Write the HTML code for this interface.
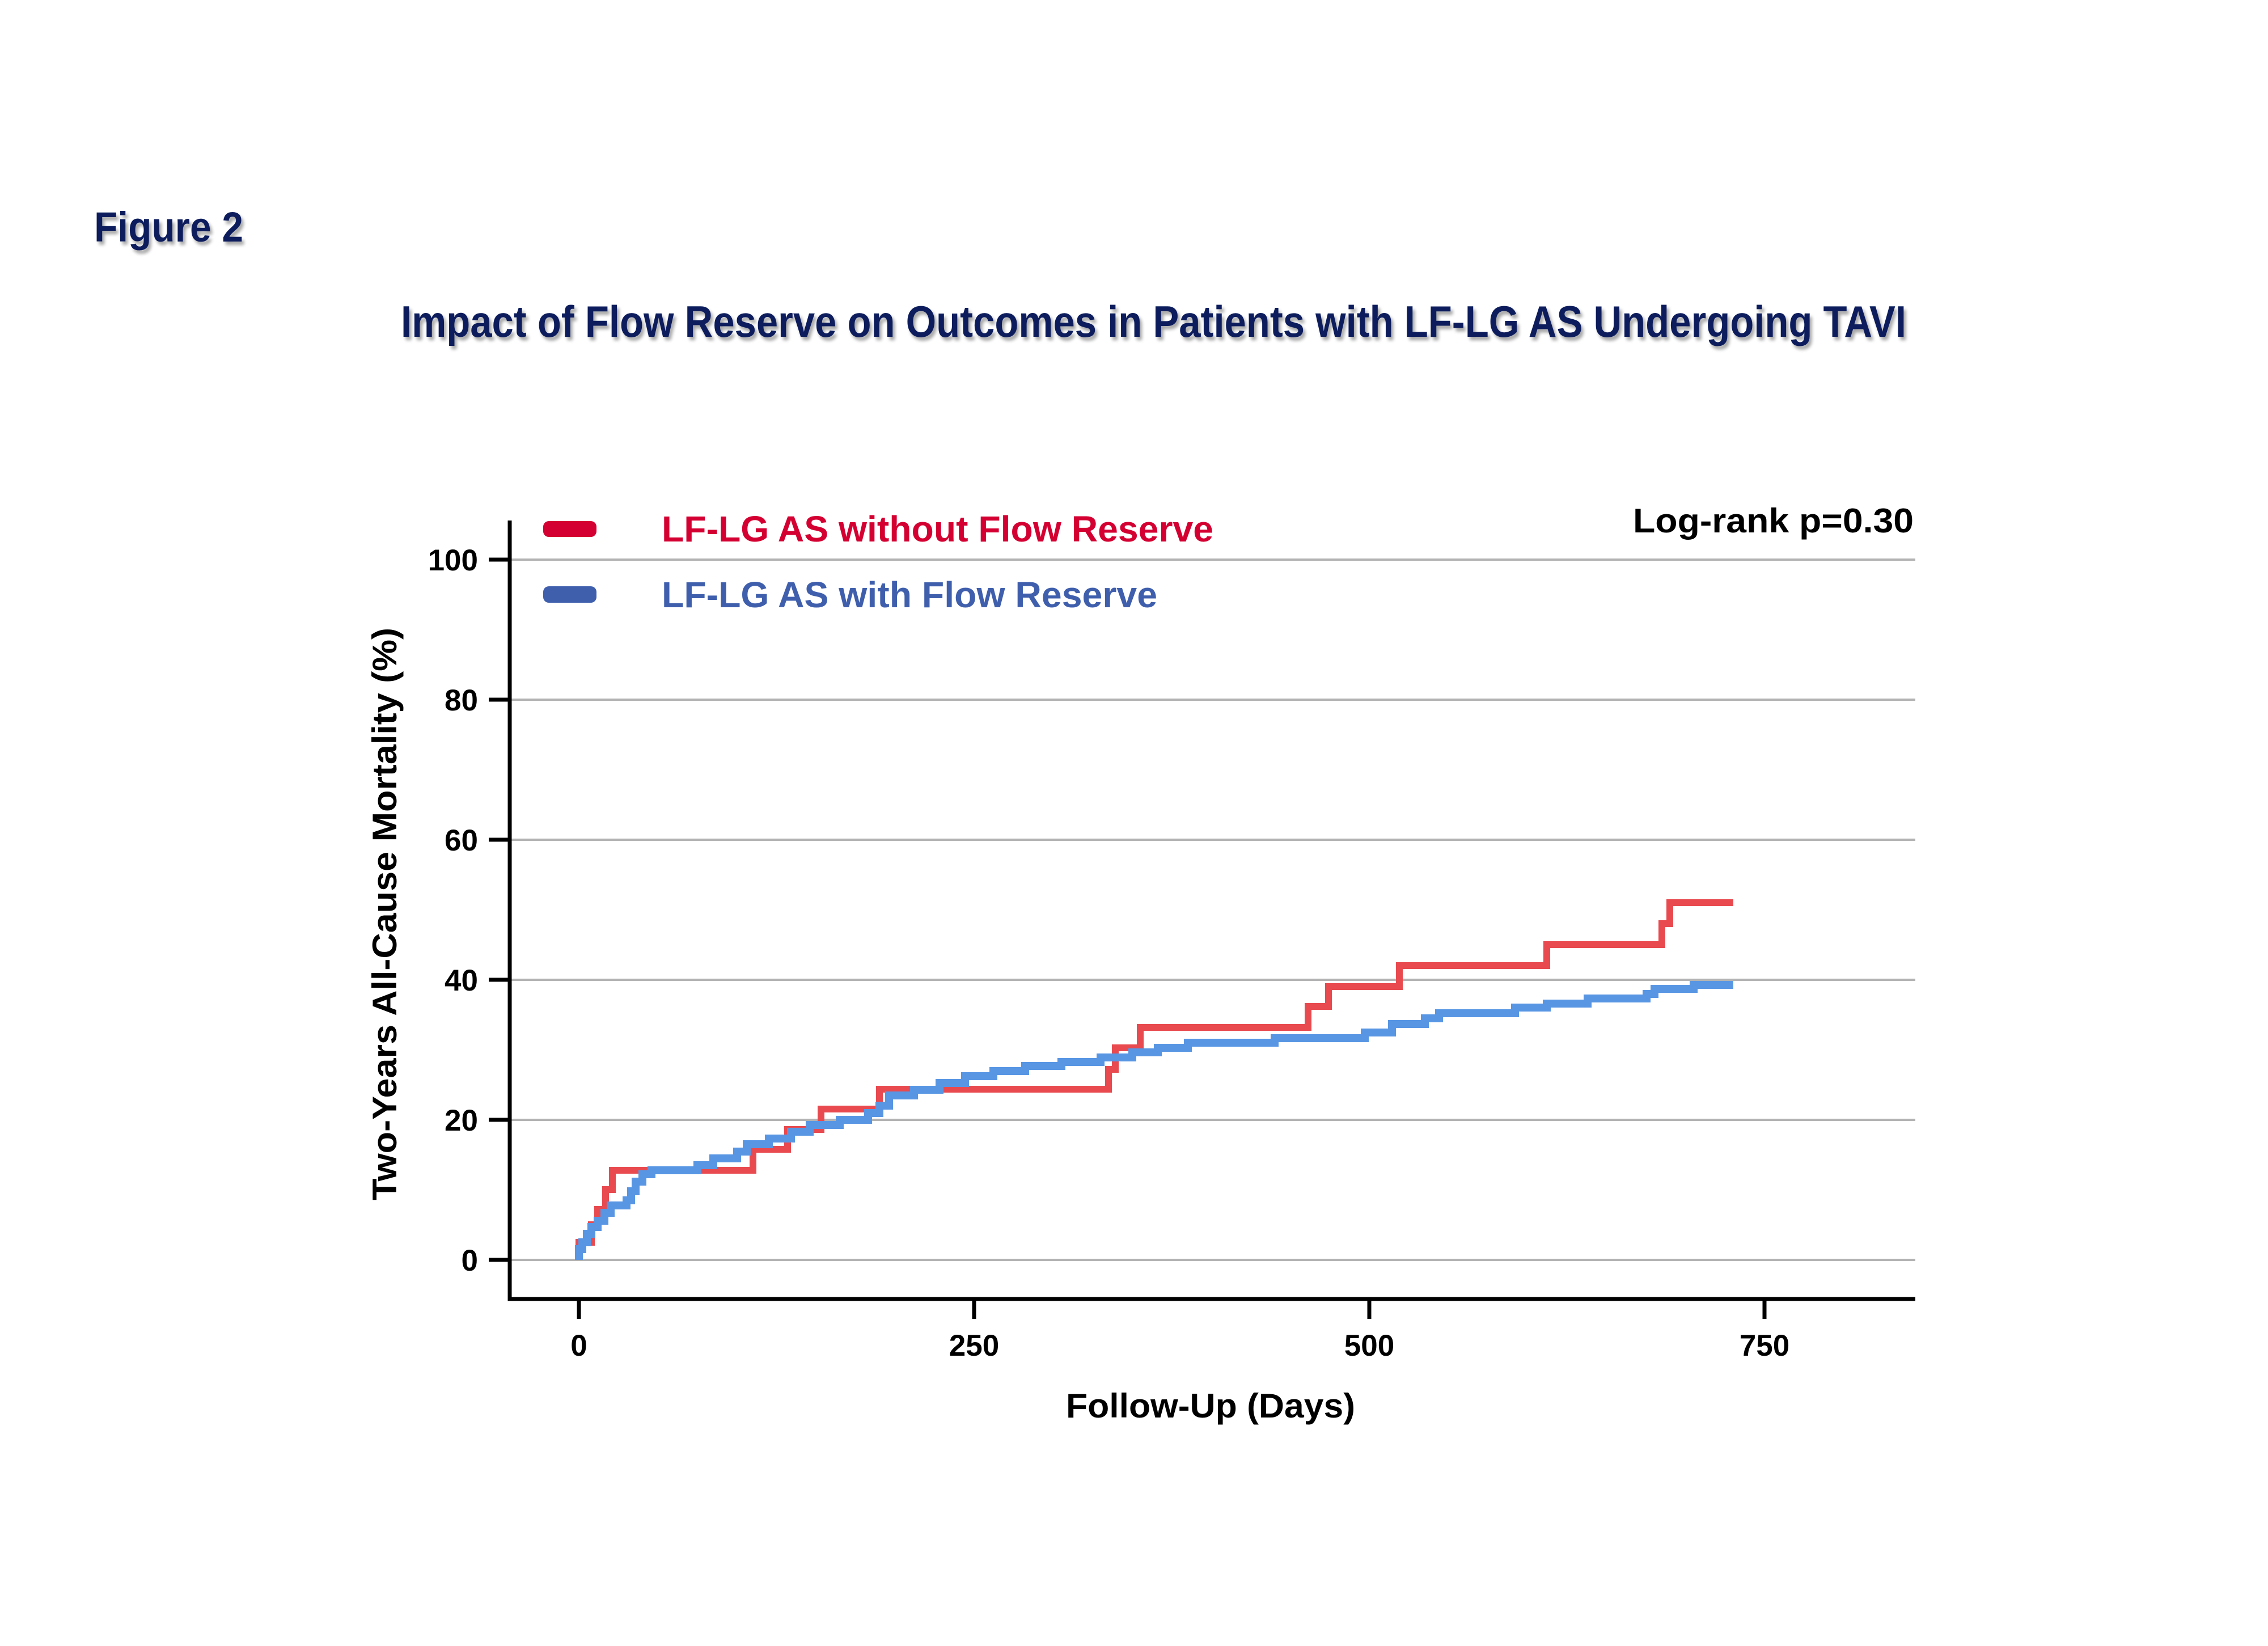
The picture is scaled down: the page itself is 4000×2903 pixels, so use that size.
<!DOCTYPE html>
<html><head><meta charset="utf-8"><style>html,body{margin:0;padding:0;background:#fff}svg{display:block}</style></head>
<body>
<svg xmlns="http://www.w3.org/2000/svg" width="4000" height="2903" viewBox="0 0 4000 2903">
<defs>
<filter id="sh" x="-5%" y="-20%" width="110%" height="150%"><feGaussianBlur in="SourceAlpha" stdDeviation="3"/><feOffset dx="4" dy="6"/><feComponentTransfer><feFuncA type="linear" slope="0.35"/></feComponentTransfer><feMerge><feMergeNode/><feMergeNode in="SourceGraphic"/></feMerge></filter>
</defs>
<rect width="4000" height="2903" fill="#fff"/>
<g font-family="Liberation Sans, Arial, sans-serif" font-weight="bold" fill="#0b1f5c" filter="url(#sh)">
<text x="166" y="426" font-size="74" textLength="263" lengthAdjust="spacingAndGlyphs">Figure 2</text>
<text x="707" y="594" font-size="78" textLength="2655" lengthAdjust="spacingAndGlyphs">Impact of Flow Reserve on Outcomes in Patients with LF-LG AS Undergoing TAVI</text>
</g>
<g stroke="#b3b3b3" stroke-width="4">
<line x1="902" y1="987" x2="3378" y2="987"/>
<line x1="902" y1="1234" x2="3378" y2="1234"/>
<line x1="902" y1="1481" x2="3378" y2="1481"/>
<line x1="902" y1="1728" x2="3378" y2="1728"/>
<line x1="902" y1="1975" x2="3378" y2="1975"/>
<line x1="902" y1="2222" x2="3378" y2="2222"/>
</g>
<g stroke="#000" stroke-width="7" fill="none">
<path d="M899 918 V2291 H3378"/>
<line x1="862" y1="987" x2="899" y2="987"/>
<line x1="862" y1="1234" x2="899" y2="1234"/>
<line x1="862" y1="1481" x2="899" y2="1481"/>
<line x1="862" y1="1728" x2="899" y2="1728"/>
<line x1="862" y1="1975" x2="899" y2="1975"/>
<line x1="862" y1="2222" x2="899" y2="2222"/>
<line x1="1021" y1="2291" x2="1021" y2="2326"/>
<line x1="1718" y1="2291" x2="1718" y2="2326"/>
<line x1="2415" y1="2291" x2="2415" y2="2326"/>
<line x1="3112" y1="2291" x2="3112" y2="2326"/>
</g>
<g font-family="Liberation Sans, Arial, sans-serif" font-weight="bold" font-size="53" fill="#000" text-anchor="end">
<text x="843" y="1006">100</text>
<text x="843" y="1253">80</text>
<text x="843" y="1500">60</text>
<text x="843" y="1747">40</text>
<text x="843" y="1994">20</text>
<text x="843" y="2241">0</text>
</g>
<g font-family="Liberation Sans, Arial, sans-serif" font-weight="bold" font-size="53" fill="#000" text-anchor="middle">
<text x="1021" y="2391">0</text>
<text x="1718" y="2391">250</text>
<text x="2415" y="2391">500</text>
<text x="3112" y="2391">750</text>
</g>
<text x="2135" y="2500" font-family="Liberation Sans, Arial, sans-serif" font-weight="bold" font-size="60" text-anchor="middle" textLength="510" lengthAdjust="spacingAndGlyphs">Follow-Up (Days)</text>
<text transform="translate(699,1612) rotate(-90)" font-family="Liberation Sans, Arial, sans-serif" font-weight="bold" font-size="60" text-anchor="middle" textLength="1010" lengthAdjust="spacingAndGlyphs">Two-Years All-Cause Mortality (%)</text>
<text x="3375" y="939" font-family="Liberation Sans, Arial, sans-serif" font-weight="bold" font-size="60" text-anchor="end" textLength="495" lengthAdjust="spacingAndGlyphs">Log-rank p=0.30</text>
<rect x="958" y="919" width="94" height="28" rx="10" fill="#d40032"/>
<rect x="958" y="1034" width="94" height="29" rx="10" fill="#3f5fad"/>
<text x="1167" y="955" font-family="Liberation Sans, Arial, sans-serif" font-weight="bold" font-size="64" fill="#d40032" textLength="973" lengthAdjust="spacingAndGlyphs">LF-LG AS without Flow Reserve</text>
<text x="1167" y="1071" font-family="Liberation Sans, Arial, sans-serif" font-weight="bold" font-size="64" fill="#3f5fad" textLength="874" lengthAdjust="spacingAndGlyphs">LF-LG AS with Flow Reserve</text>
<path fill="none" stroke="#e84a4f" stroke-width="12" d="M1021 2222 V2191 H1043 V2160 H1054 V2133 H1068 V2098 H1080 V2064 H1328 V2027 H1389 V1992 H1448 V1956 H1551 V1921 H1955 V1886 H1967 V1848 H2011 V1812 H2307 V1775 H2343 V1740 H2468 V1703 H2728 V1666 H2931 V1629 H2945 V1592 H3057"/>
<path fill="none" stroke="#5896e4" stroke-width="14" d="M1021 2222 V2203 H1027 V2191 H1035 V2176 H1043 V2164 H1054 V2153 H1066 V2139 H1077 V2126 H1105 V2117 H1113 V2101 H1121 V2084 H1133 V2071 H1149 V2064 H1230 V2055 H1258 V2043 H1300 V2031 H1317 V2018 H1356 V2008 H1395 V1996 H1428 V1984 H1481 V1975 H1531 V1963 H1551 V1950 H1568 V1932 H1612 V1922 H1657 V1910 H1702 V1898 H1752 V1889 H1808 V1880 H1872 V1873 H1941 V1865 H1997 V1856 H2042 V1848 H2095 V1839 H2248 V1831 H2407 V1821 H2455 V1806 H2513 V1796 H2538 V1787 H2672 V1777 H2728 V1770 H2800 V1761 H2904 V1753 H2918 V1744 H2987 V1737 H3057"/>
</svg>
</body></html>
